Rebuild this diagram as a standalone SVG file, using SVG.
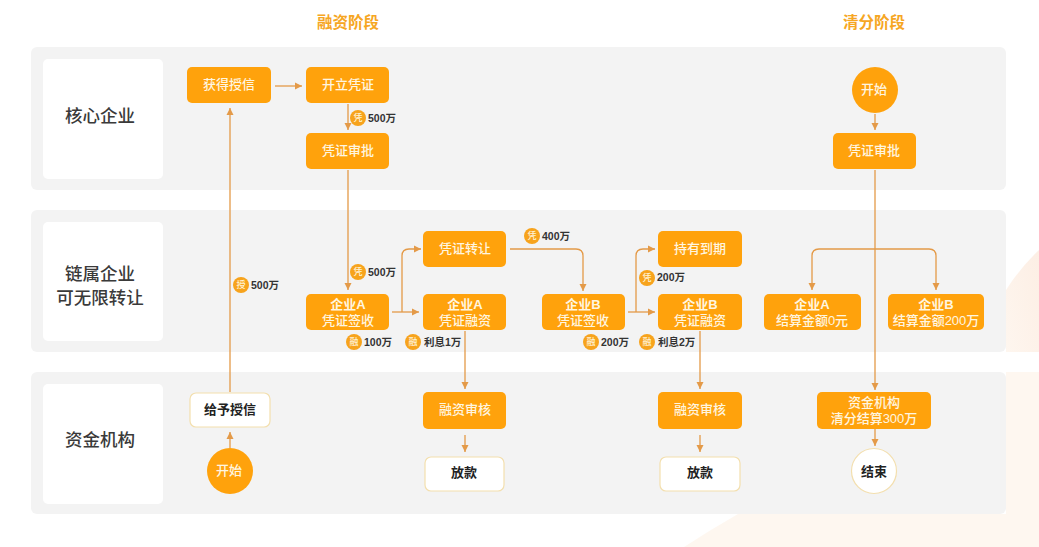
<svg xmlns="http://www.w3.org/2000/svg" width="1039" height="547" viewBox="0 0 1039 547">
<defs>
<marker id="arr" markerUnits="userSpaceOnUse" markerWidth="8" markerHeight="8" refX="7" refY="4" orient="auto"><path d="M0,0.5 L7,4 L0,7.5 Z" fill="#e49a48"/></marker>
<linearGradient id="peach" x1="0" y1="1" x2="1" y2="0"><stop offset="0" stop-color="#fdf0e4"/><stop offset="1" stop-color="#fbe3d2"/></linearGradient>
</defs>
<style>
text{font-family:"Liberation Sans","Noto Sans CJK SC",sans-serif;text-anchor:middle}
.band{fill:#f3f3f3}
.lab{fill:#fff}
.labt{font-size:17.5px;fill:#3a3a3a;font-weight:500}
.head{font-size:15.5px;fill:#f6a623;font-weight:700}
.o{fill:#ffa20c}
.w{fill:#fff;stroke:#f3dfae;stroke-width:1.2}
.ot{font-size:13px;fill:#fff6e0;font-weight:500}
.ob{font-size:13px;fill:#fff6e0;font-weight:700}
.wt{font-size:13px;fill:#222;font-weight:700}
.c{fill:none;stroke:#e49a48;stroke-width:1.3}
.a{marker-end:url(#arr)}
.bt{font-size:9px;fill:#fff3d6;font-weight:500}
.bl{font-size:10.5px;fill:#333;font-weight:700;text-anchor:start}
.bc{fill:#f7a31c}
</style>
<rect width="1039" height="547" fill="#fff"/>
<path d="M1006,290 Q1020,268 1039,250 L1039,352 L1006,352 Z" fill="url(#peach)" opacity=".6"/>
<path d="M1006,372 L1039,372 L1039,547 L684,547 Q710,530 738,514 L1006,514 Z" fill="#fdf3ea" opacity=".7"/>
<g id="bands">
<rect class="band" x="31" y="47" width="975" height="143" rx="6"/>
<rect class="band" x="31" y="210" width="975" height="142" rx="6"/>
<rect class="band" x="31" y="372" width="975" height="142" rx="6"/>
</g>
<text class="head" x="348" y="28">融资阶段</text>
<text class="head" x="874" y="28">清分阶段</text>
<g id="lane-core"><rect class="lab" x="43" y="59" width="120" height="120" rx="5"/><text class="labt" x="100" y="122">核心企业</text></g>
<g id="lane-chain"><rect class="lab" x="43" y="222" width="120" height="119" rx="5"/><text class="labt" x="100" y="280">链属企业</text><text class="labt" x="100" y="304">可无限转让</text></g>
<g id="lane-fund"><rect class="lab" x="43" y="384" width="120" height="120" rx="5"/><text class="labt" x="100" y="446">资金机构</text></g>
<g id="connectors">
<path class="c a" d="M230,448 V432"/>
<path class="c a" d="M230,392 V108"/>
<path class="c a" d="M275,86 H302"/>
<path class="c a" d="M348,104 V130"/>
<path class="c a" d="M348,170 V290"/>
<path class="c a" d="M392,312 H419"/>
<path class="c a" d="M402,312 V256 Q402,249 409,249 H421"/>
<path class="c a" d="M510,249 H576 Q583,249 583,256 V291"/>
<path class="c a" d="M628,312 H655"/>
<path class="c a" d="M636,312 V256 Q636,249 643,249 H655"/>
<path class="c a" d="M465,331 V389"/>
<path class="c a" d="M465,435 V452"/>
<path class="c a" d="M700,331 V389"/>
<path class="c a" d="M700,435 V452"/>
<path class="c a" d="M875,114 V130"/>
<path class="c a" d="M875,170 V390"/>
<path class="c a" d="M875,429 V446"/>
<path class="c a" d="M875,249 H819 Q812,249 812,256 V290"/>
<path class="c a" d="M875,249 H929 Q936,249 936,256 V290"/>
</g>
<g id="n1"><rect class="o" x="187" y="67" width="84" height="36" rx="5"/><text class="ot" x="229" y="89">获得授信</text></g>
<g id="n2"><rect class="o" x="306" y="67" width="83" height="36" rx="5"/><text class="ot" x="348" y="89">开立凭证</text></g>
<g id="n3"><rect class="o" x="306" y="133" width="83" height="36" rx="5"/><text class="ot" x="348" y="155">凭证审批</text></g>
<g id="n4"><rect class="o" x="423" y="231" width="83" height="36" rx="5"/><text class="ot" x="465" y="253">凭证转让</text></g>
<g id="n5"><rect class="o" x="306" y="294" width="83" height="36" rx="5"/><text class="ob" x="348" y="309">企业A</text><text class="ot" x="348" y="325">凭证签收</text></g>
<g id="n6"><rect class="o" x="423" y="294" width="83" height="36" rx="5"/><text class="ob" x="465" y="309">企业A</text><text class="ot" x="465" y="325">凭证融资</text></g>
<g id="n7"><rect class="o" x="542" y="294" width="83" height="36" rx="5"/><text class="ob" x="583" y="309">企业B</text><text class="ot" x="583" y="325">凭证签收</text></g>
<g id="n8"><rect class="o" x="658" y="231" width="84" height="36" rx="5"/><text class="ot" x="700" y="253">持有到期</text></g>
<g id="n9"><rect class="o" x="658" y="294" width="84" height="36" rx="5"/><text class="ob" x="700" y="309">企业B</text><text class="ot" x="700" y="325">凭证融资</text></g>
<g id="n10"><circle class="o" cx="875" cy="90" r="23"/><text class="ot" x="874" y="94">开始</text></g>
<g id="n11"><rect class="o" x="833" y="133" width="83" height="36" rx="5"/><text class="ot" x="874" y="155">凭证审批</text></g>
<g id="n12"><rect class="o" x="764" y="294" width="97" height="36" rx="5"/><text class="ob" x="812" y="309">企业A</text><text class="ot" x="812" y="325">结算金额0元</text></g>
<g id="n13"><rect class="o" x="888" y="294" width="96" height="36" rx="5"/><text class="ob" x="936" y="309">企业B</text><text class="ot" x="936" y="325">结算金额200万</text></g>
<g id="n14"><rect class="o" x="817" y="392" width="114" height="37" rx="5"/><text class="ot" x="874" y="407">资金机构</text><text class="ot" x="874" y="423">清分结算300万</text></g>
<g id="n15"><circle class="w" cx="874" cy="471" r="22.5"/><text class="wt" x="874" y="476">结束</text></g>
<g id="n16"><rect class="w" x="190" y="393" width="80" height="34" rx="6"/><text class="wt" x="230" y="414">给予授信</text></g>
<g id="n17"><circle class="o" cx="230" cy="471" r="23"/><text class="ot" x="229" y="475">开始</text></g>
<g id="n18"><rect class="o" x="423" y="392" width="83" height="37" rx="5"/><text class="ot" x="465" y="414">融资审核</text></g>
<g id="n19"><rect class="w" x="425" y="457" width="79" height="34" rx="6"/><text class="wt" x="464" y="477">放款</text></g>
<g id="n20"><rect class="o" x="658" y="392" width="84" height="37" rx="5"/><text class="ot" x="700" y="414">融资审核</text></g>
<g id="n21"><rect class="w" x="660" y="457" width="80" height="34" rx="6"/><text class="wt" x="700" y="477">放款</text></g>
<g id="badges">
<circle class="bc" cx="358" cy="118" r="8"/><text class="bt" x="358" y="121">凭</text><text class="bl" x="368" y="122">500万</text>
<circle class="bc" cx="358" cy="272" r="8"/><text class="bt" x="358" y="275">凭</text><text class="bl" x="368" y="276">500万</text>
<circle class="bc" cx="241" cy="285" r="8"/><text class="bt" x="241" y="288">授</text><text class="bl" x="251" y="289">500万</text>
<circle class="bc" cx="354" cy="342" r="8"/><text class="bt" x="354" y="345">融</text><text class="bl" x="364" y="346">100万</text>
<circle class="bc" cx="413" cy="342" r="8"/><text class="bt" x="413" y="345">融</text><text class="bl" x="424" y="346">利息1万</text>
<circle class="bc" cx="532" cy="236" r="8"/><text class="bt" x="532" y="239">凭</text><text class="bl" x="542" y="240">400万</text>
<circle class="bc" cx="647" cy="278" r="8"/><text class="bt" x="647" y="281">凭</text><text class="bl" x="657" y="281">200万</text>
<circle class="bc" cx="591" cy="342" r="8"/><text class="bt" x="591" y="345">融</text><text class="bl" x="601" y="346">200万</text>
<circle class="bc" cx="647" cy="342" r="8"/><text class="bt" x="647" y="345">融</text><text class="bl" x="658" y="346">利息2万</text>
</g>
</svg>
